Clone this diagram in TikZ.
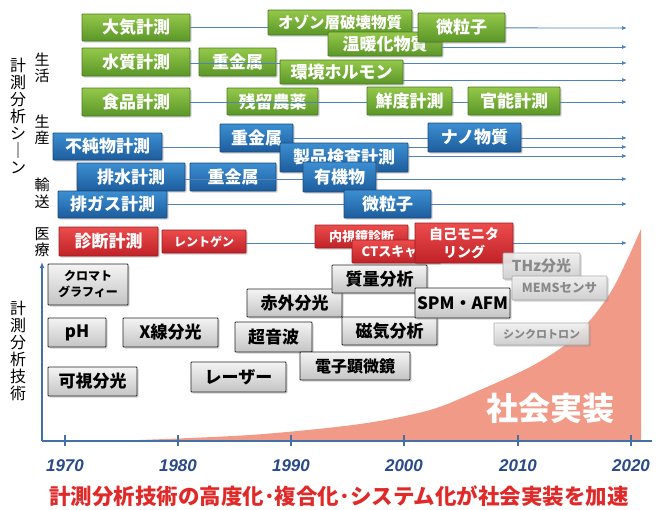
\documentclass[tikz,border=0pt]{standalone}
\usepackage{fontspec}
\newfontfamily\jp{Noto Sans CJK JP}
\newfontfamily\yr{Liberation Sans}
\usetikzlibrary{shadows,arrows.meta}
\definecolor{g1}{HTML}{94C84A}
\definecolor{g2}{HTML}{5A9628}
\definecolor{gb}{HTML}{4A7A22}
\definecolor{b1}{HTML}{3C8FD2}
\definecolor{b2}{HTML}{1D5C9C}
\definecolor{bb}{HTML}{1A4A7C}
\definecolor{r1}{HTML}{EC4C4C}
\definecolor{r2}{HTML}{C02228}
\definecolor{rb}{HTML}{9A1C20}
\definecolor{k1}{HTML}{F4F4F4}
\definecolor{k2}{HTML}{C4C4C4}
\definecolor{lc}{HTML}{4F81BD}
\definecolor{ax}{HTML}{4470A8}
\definecolor{pk}{HTML}{F29A88}
\definecolor{yc}{HTML}{2A4A8A}
\definecolor{rt}{HTML}{E02A2A}
\tikzset{
  wh/.style 2 args={minimum width=#1pt,minimum height=#2pt},
  fs/.style={font=\jp\bfseries\fontsize{#1}{#1}\selectfont},
  box/.style={draw, rounded corners=0.8pt, inner sep=0pt, align=center, line width=0.8pt,
    drop shadow={shadow xshift=1.5pt, shadow yshift=-1.5pt, opacity=0.35}, fs=17},
  gbox/.style={box, top color=g1, bottom color=g2, draw=gb, text=white},
  bbox/.style={box, top color=b1, bottom color=b2, draw=bb, text=white},
  rbox/.style={box, top color=r1, bottom color=r2, draw=rb, text=white},
  kbox/.style={box, top color=k1, bottom color=k2, draw=black!85, text=black},
  lbox/.style={box, top color=k1, bottom color=k2!80, draw=black!35, text=black!50, fill opacity=0.9, line width=0.6pt},
  tl/.style={draw=lc, line width=0.8pt, -{Latex[length=5pt,width=4pt]}},
  lab/.style={font=\jp\fontsize{15}{16.5}\selectfont, align=center, inner sep=0pt},
  yrs/.style={font=\yr\bfseries\itshape\fontsize{17}{17}\selectfont, text=yc, inner sep=0pt},
}
\begin{document}
\begin{tikzpicture}[x=1pt,y=-1pt]
\useasboundingbox (0,0) rectangle (664,509);
% social implementation area
\fill[pk] plot[smooth] coordinates {(112,441) (250,435) (360,424) (430,410) (480,390) (530,367) (565,345) (592,318) (612,290) (628,258) (641,229)} -- (641,441) -- cycle;
\node[font=\jp\bfseries\fontsize{32}{32}\selectfont, text=white, inner sep=0pt] (shakai) at (550,408) {社会実装};
% axes
\coordinate (o) at (42,441);
\coordinate (ytop) at (42,262);
\coordinate (xend) at (652,441);
\draw[ax, line width=1.6pt, -{Latex[length=6pt,width=5pt]}] (o) -- (ytop);
\draw[ax, line width=1.6pt] (o) -- (xend);
\foreach \x/\y in {65/1970,178/1980,291/1990,404/2000,518/2010,631/2020}{
  \coordinate (t\y) at (\x,441);
  \draw[ax, line width=1.2pt] ([yshift=6pt]t\y) -- ([yshift=-5pt]t\y);
  \node[yrs] (y\y) at (\x,466) {\y};
}
% end points of time lines
\coordinate (e1) at (627,28);
\coordinate (e2) at (627,47);
\coordinate (e3) at (627,63);
\coordinate (e4) at (627,80);
\coordinate (e5) at (627,102);
\coordinate (e6) at (627,138);
\coordinate (e7) at (627,147);
\coordinate (e8) at (627,156);
\coordinate (e9) at (627,179);
\coordinate (e10) at (627,204);
\coordinate (e11) at (627,243);
% green
\node[gbox, wh={108}{27}] (taiki) at (136,27.5) {大気計測};
\node[gbox, wh={108}{28}] (suishitsu) at (136,62) {水質計測};
\node[gbox, wh={77}{28}] (jk1) at (237.5,62) {重金属};
\node[gbox, wh={108}{28}] (shokuhin) at (136,102) {食品計測};
\node[gbox, wh={91}{27}] (zanryu) at (272.5,101.5) {残留農薬};
% blue
\node[bbox, wh={109}{27}] (fujun) at (107.5,146.5) {不純物計測};
\node[bbox, wh={108}{28}] (haisui) at (131,177) {排水計測};
\node[bbox, wh={86}{28}] (jk3) at (233,177) {重金属};
\node[bbox, wh={109}{27}] (haigas) at (112.5,204.5) {排ガス計測};
% red
\node[rbox, wh={99}{29}] (shindan) at (108.5,241.5) {診断計測};
\node[rbox, wh={84}{23}, fs=12] (rentogen) at (204,241.5) {レントゲン};
% time lines (behind the later boxes)
\draw[tl] (taiki.east) -- (e1);
\draw[tl] (suishitsu.east |- e3) -- (e3);
\draw[tl] (shokuhin.east |- e5) -- (e5);
\draw[tl] (fujun.east |- e7) -- (e7);
\draw[tl] (haisui.east |- e9) -- (e9);
\draw[tl] (haigas.east |- e10) -- (e10);
\draw[tl] (rentogen.east |- e11) -- (e11);
% green, later boxes
\node[gbox, wh={144}{25}, fs=15.5] (ozone) at (340,22.5) {オゾン層破壊物質};
\node[gbox, wh={114}{24}] (ondan) at (385,44) {温暖化物質};
\draw[tl] (ondan.east |- e2) -- (e2);
\node[gbox, wh={87}{29}] (biryushi) at (461.5,27.5) {微粒子};
\node[gbox, wh={123}{24}] (kankyo) at (341.5,72) {環境ホルモン};
\draw[tl] (kankyo.east |- e4) -- (e4);
\node[gbox, wh={85}{28}] (sendo) at (409.5,101) {鮮度計測};
\node[gbox, wh={92}{28}] (kanno) at (514,101) {官能計測};
% blue, later boxes
\node[bbox, wh={73}{28}] (jk2) at (256.5,138) {重金属};
\draw[tl] (jk2.east |- e6) -- (e6);
\node[bbox, wh={93}{29}] (nano) at (474.5,137.5) {ナノ物質};
\node[bbox, wh={128}{29}] (seihin) at (344,157.5) {製品検査計測};
\draw[tl] (seihin.east |- e8) -- (e8);
\node[bbox, wh={73}{30}] (yuki) at (339.5,177) {有機物};
\node[bbox, wh={87}{28}] (biryushi2) at (387.5,204) {微粒子};
% red, later boxes
\node[rbox, wh={93}{23}, fs=13] (naishi) at (361.5,236.5) {内視鏡診断};
\node[rbox, wh={88}{23}, fs=13] (ct) at (396,251.5) {CTスキャン};
\node[rbox, wh={98}{40}, font=\jp\bfseries\fontsize{14}{18}\selectfont] (jiko) at (464,243) {自己モニタ\\リング};
% analysis techniques
\node[kbox, wh={80}{41}, font=\jp\bfseries\fontsize{12}{16}\selectfont] (kuromato) at (88,284.5) {クロマト\\グラフィー};
\node[kbox, wh={58}{29}] (ph) at (77,332.5) {pH};
\node[kbox, wh={95}{29}] (xsen) at (170.5,332.5) {X線分光};
\node[kbox, wh={89}{29}] (kashi) at (92.5,381.5) {可視分光};
\node[kbox, wh={95}{30}] (laser) at (238.5,377) {レーザー};
\node[kbox, wh={95}{28}] (sekigai) at (294.5,303) {赤外分光};
\node[kbox, wh={77}{30}] (choon) at (273.5,337) {超音波};
\node[kbox, wh={110}{28}, fs=16] (denshi) at (355,366) {電子顕微鏡};
\node[kbox, wh={95}{28}] (shitsuryo) at (379.5,279) {質量分析};
\node[kbox, wh={95}{28}] (jiki) at (389.5,331) {磁気分析};
\node[kbox, wh={95}{30}] (spm) at (462.5,303) {SPM・AFM};
\node[lbox, wh={77}{26}, fs=15] (thz) at (541.5,266) {THz分光};
\node[lbox, wh={95}{24}, fs=12.5] (mems) at (559.5,288) {MEMSセンサ};
\node[lbox, wh={95}{22}, fs=11] (synchro) at (541.5,334) {シンクロトロン};
% side labels
\node[lab, font=\jp\fontsize{16}{17}\selectfont] (scene) at (18,116) {計\\測\\分\\析\\シ\\｜\\ン};
\node[lab] (seikatsu) at (42,68) {生\\活};
\node[lab] (seisan) at (42,130) {生\\産};
\node[lab] (yuso) at (42,193) {輸\\送};
\node[lab] (iryo) at (42,242) {医\\療};
\node[lab, font=\jp\fontsize{16}{17}\selectfont] (gijutsu) at (18,351) {計\\測\\分\\析\\技\\術};
% bottom message
\node[font=\jp\bfseries\fontsize{21.5}{22}\selectfont, text=rt, inner sep=0pt] (msg) at (339,496) {計測分析技術の高度化･複合化･システム化が社会実装を加速};
\end{tikzpicture}
\end{document}
